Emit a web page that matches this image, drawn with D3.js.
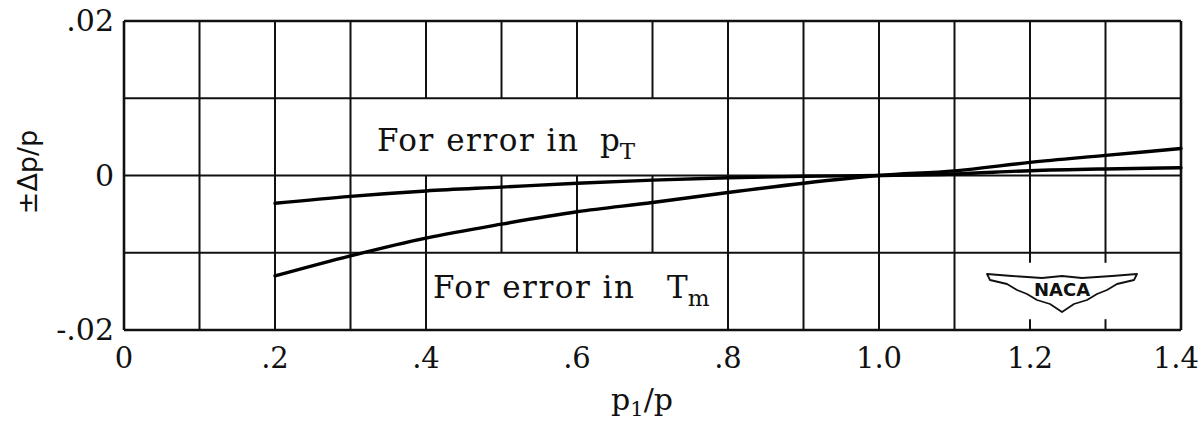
<!DOCTYPE html>
<html>
<head>
<meta charset="utf-8">
<script src="https://cdn.jsdelivr.net/npm/d3@7"></script>
<style>
  body { margin: 0; background: #fff; }
  svg { display: block; }
  text { font-family: "DejaVu Serif", "Liberation Serif", serif; fill: #111; }
</style>
</head>
<body>
<svg></svg>
<script>
// values
var xGrid = d3.range(0, 15).map(i => i / 10);
var yGrid = [-0.02, -0.01, 0, 0.01, 0.02];
var xTickValues = [0, 0.2, 0.4, 0.6, 0.8, 1.0, 1.2, 1.4];
var xTickLabels = ["0", ".2", ".4", ".6", ".8", "1.0", "1.2", "1.4"];
var yTickValues = [0.02, 0, -0.02];
var yTickLabels = [".02", "0", "-.02"];

var pX = [0.2, 0.3, 0.4, 0.5, 0.6, 0.7, 0.8, 0.9, 1.0, 1.1, 1.2, 1.3, 1.4];
var pTErr = [-0.0036, -0.0027, -0.0020, -0.0015, -0.0010, -0.0006, -0.0003, -0.0001, 0, 0.0002, 0.00062, 0.00085, 0.0010];
var tmErr = [-0.0130, -0.0104, -0.0081, -0.0063, -0.0047, -0.0035, -0.0022, -0.0010, 0, 0.0006, 0.0017, 0.0026, 0.0035];

// where vertical grid lines are broken (labels and logo sit there)
var gridGaps = [
  { x: 0.4, from: 0, to: 0.01 },
  { x: 0.5, from: 0, to: 0.01 },
  { x: 0.6, from: 0, to: 0.01 },
  { x: 0.7, from: 0, to: 0.01 },
  { x: 0.5, from: -0.02, to: -0.01 },
  { x: 0.6, from: -0.02, to: -0.01 },
  { x: 0.7, from: -0.02, to: -0.01 },
  { x: 1.2, from: -0.0186, to: -0.0113 },
  { x: 1.3, from: -0.0186, to: -0.0113 }
];

var width = 1202, height = 425;
var svg = d3.select("svg").attr("width", width).attr("height", height);

var x = d3.scaleLinear().domain([0, 1.4]).range([124, 1181]);
var y = d3.scaleLinear().domain([-0.02, 0.02]).range([330, 21]);

var g = svg.append("g");

// horizontal grid
g.selectAll(".hgrid").data(yGrid).enter().append("line")
  .attr("x1", x(0)).attr("x2", x(1.4))
  .attr("y1", d => y(d)).attr("y2", d => y(d))
  .attr("stroke", "#111").attr("stroke-width", d => Math.abs(d) === 0.02 ? 2.6 : 2);

// vertical grid, split into pieces around the gaps
var vSegs = [];
xGrid.forEach(xv => {
  var gaps = gridGaps.filter(q => Math.abs(q.x - xv) < 1e-9).sort((a, b) => a.from - b.from);
  var start = -0.02;
  gaps.forEach(q => {
    if (q.from > start) vSegs.push({ x: xv, a: start, b: q.from });
    start = q.to;
  });
  if (start < 0.02) vSegs.push({ x: xv, a: start, b: 0.02 });
});
g.selectAll(".vgrid").data(vSegs).enter().append("line")
  .attr("x1", d => x(d.x)).attr("x2", d => x(d.x))
  .attr("y1", d => y(d.a)).attr("y2", d => y(d.b))
  .attr("stroke", "#111")
  .attr("stroke-width", d => (d.x === 0 || d.x === 1.4) ? 2.6 : 2);

// curves
var line = d3.line().x(d => x(d[0])).y(d => y(d[1])).curve(d3.curveMonotoneX);
[pTErr, tmErr].forEach(s => {
  g.append("path")
    .datum(pX.map((v, i) => [v, s[i]]))
    .attr("d", line)
    .attr("fill", "none").attr("stroke", "#000").attr("stroke-width", 3.4)
    .attr("stroke-linecap", "round");
});

// tick labels (last one kept inside the page edge)
svg.selectAll(".xl").data(xTickValues).enter().append("text")
  .attr("x", (d, i) => i === xTickValues.length - 1 ? 1199 : x(d))
  .attr("y", 368)
  .attr("text-anchor", (d, i) => i === xTickValues.length - 1 ? "end" : "middle")
  .style("font-size", "29px")
  .text((d, i) => xTickLabels[i]);

svg.selectAll(".yl").data(yTickValues).enter().append("text")
  .attr("x", 114).attr("y", d => y(d) + 10)
  .attr("text-anchor", "end").style("font-size", "30px")
  .text((d, i) => yTickLabels[i]);

// axis titles
var xt = svg.append("text").attr("x", 642).attr("y", 410)
  .attr("text-anchor", "middle").style("font-size", "30px");
xt.append("tspan").text("p");
xt.append("tspan").attr("dy", 6).style("font-size", "21px").text("1");
xt.append("tspan").attr("dy", -6).text("/p");

svg.append("text")
  .attr("transform", "translate(37,172) rotate(-90)")
  .attr("text-anchor", "middle")
  .style("font-size", "27px")
  .style("font-family", "DejaVu Sans, sans-serif")
  .text("\u00B1\u0394p/p");

// curve labels
var l1 = svg.append("text").attr("y", 151).style("font-size", "31px");
l1.append("tspan").attr("x", 377).attr("textLength", 201).attr("lengthAdjust", "spacing").text("For error in");
l1.append("tspan").attr("x", 600).text("p");
l1.append("tspan").attr("dy", 8).style("font-size", "23px").text("T");

var l2 = svg.append("text").attr("y", 298).style("font-size", "31px");
l2.append("tspan").attr("x", 433).attr("textLength", 201).attr("lengthAdjust", "spacing").text("For error in");
l2.append("tspan").attr("x", 667).text("T");
l2.append("tspan").attr("dy", 8).style("font-size", "23px").text("m");

// NACA wing emblem
var cx = 1062, cy = 288;
var logo = svg.append("g").attr("transform", "translate(" + cx + "," + cy + ")");
logo.append("path")
  .attr("d", "M-75,-14 L-50,-12 L-20,-10 L0,-12 L20,-10 L50,-12 L75,-14 L72,-8 L55,-4 L45,2 L35,6 L25,12 L12,16 L0,24 L-12,16 L-25,12 L-35,6 L-45,2 L-55,-4 L-72,-8 Z")
  .attr("fill", "#fff").attr("stroke", "#111").attr("stroke-width", 1.8)
  .attr("stroke-linejoin", "round");
logo.append("text").attr("x", 0).attr("y", 8)
  .attr("text-anchor", "middle")
  .style("font-family", "DejaVu Sans, sans-serif")
  .style("font-weight", "bold").style("font-size", "18px")
  .text("NACA");
</script>
</body>
</html>
